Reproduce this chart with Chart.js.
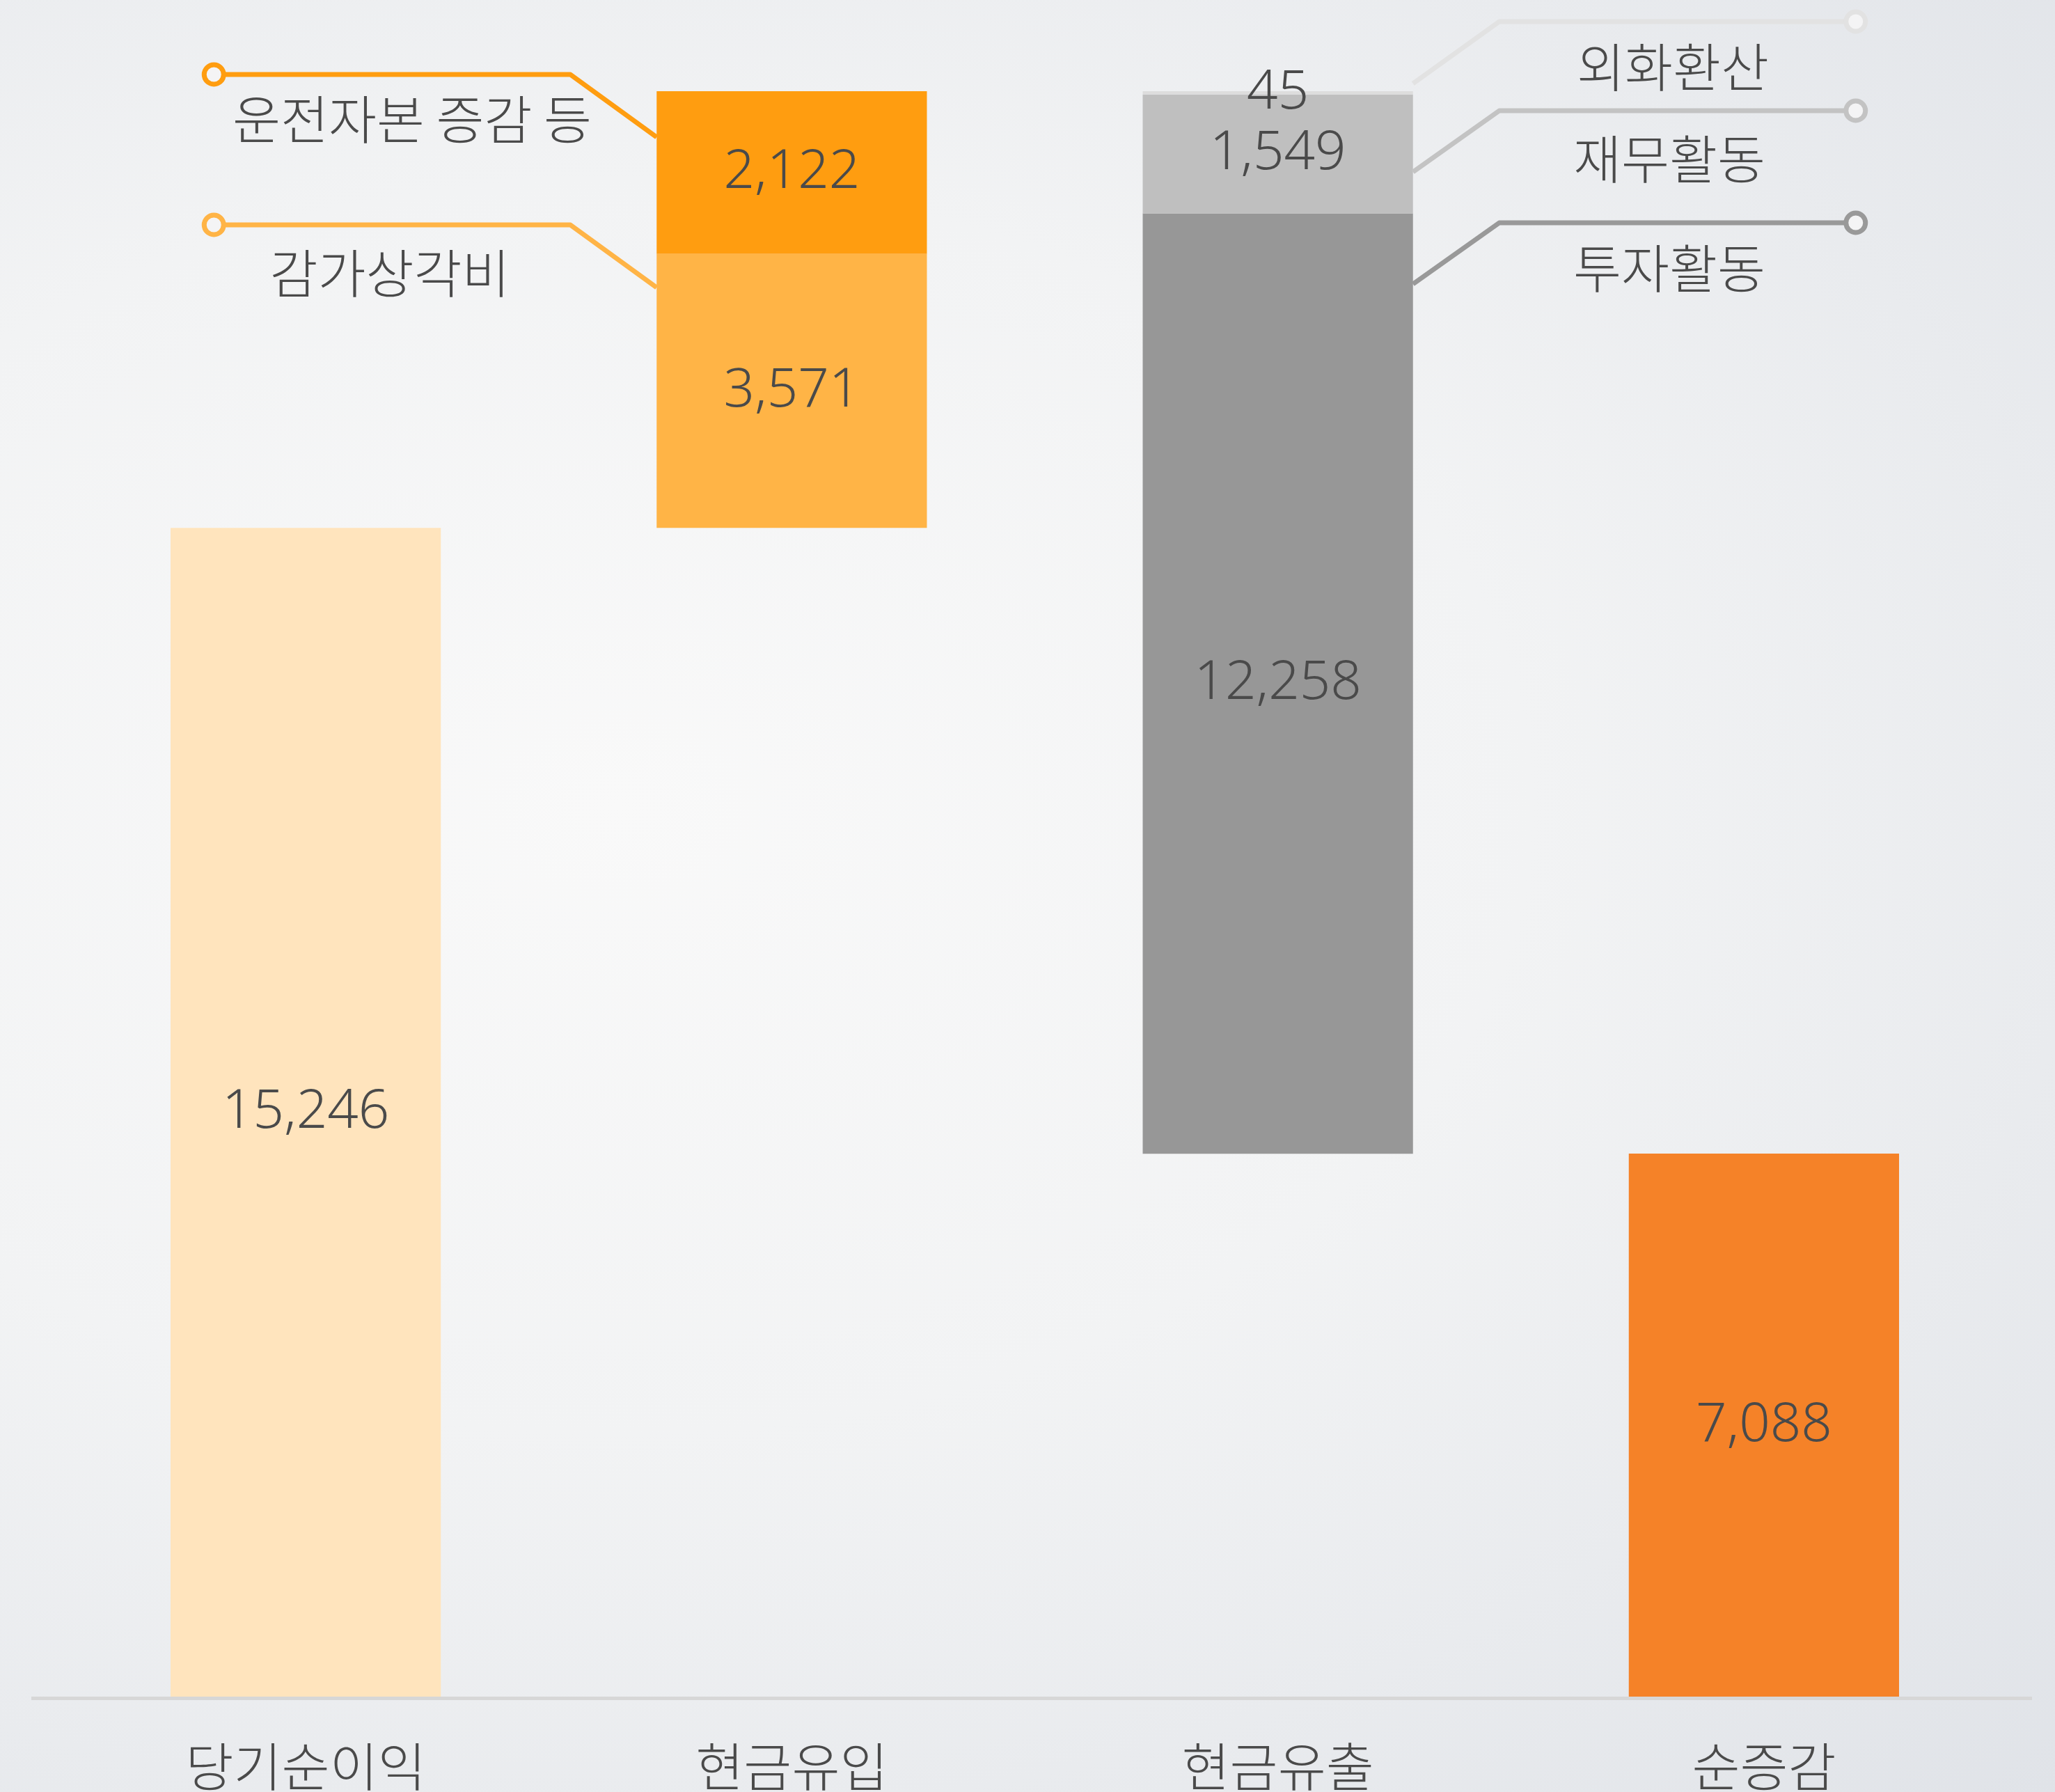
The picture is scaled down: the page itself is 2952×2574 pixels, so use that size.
<!DOCTYPE html>
<html lang="ko">
<head>
<meta charset="utf-8">
<title>현금흐름</title>
<script src="https://cdn.jsdelivr.net/npm/chart.js@4/dist/chart.umd.min.js"></script>
<style>
    html, body {
        margin: 0;
        padding: 0;
        width: 2952px;
        height: 2574px;
        overflow: hidden;
        background: radial-gradient(ellipse at 30% 45%, #f9f9f9 0%, #f2f3f4 45%, #e0e3e8 100%);
    }
    canvas { display: block; }
</style>
</head>
<body>
<canvas id="chartCash" width="2952" height="2574"></canvas>
<script>
const categories = ["당기순이익", "현금유입", "현금유출", "순증감"];
const netIncome = 15246;
// bottom to top
const inflowNames = ["감가상각비", "운전자본 증감 등"];
const inflowValues = [3571, 2122];
// top to bottom
const outflowNames = ["외화환산", "재무활동", "투자활동"];
const outflowValues = [45, 1549, 12258];
const netChange = 7088;

const netIncomeColor = "#ffe4bd";
const inflowColors = ["#ffb446", "#ff9d10"];
const outflowColors = ["#dddddd", "#bfbfbf", "#979797"];
const netChangeColor = "#f58228";

const FONT = "'Noto Sans CJK KR', 'Noto Sans', sans-serif";
const NUM_FONT = "'Noto Sans', 'Noto Sans CJK KR', sans-serif";
const TEXT = "#4a4a4a";

/**
 * @param {number} idx
 * @param {[number, number]} range
 */
function slot(idx, range) {
    return categories.map((_, i) => i === idx ? range : null);
}

function buildDatasets() {
    const sets = [];
    sets.push({ label: categories[0], amount: netIncome, data: slot(0, [0, netIncome]), backgroundColor: netIncomeColor });

    let running = netIncome;
    inflowValues.forEach((v, i) => {
        sets.push({ label: inflowNames[i], amount: v, data: slot(1, [running, running + v]), backgroundColor: inflowColors[i] });
        running += v;
    });
    outflowValues.forEach((v, i) => {
        sets.push({ label: outflowNames[i], amount: v, data: slot(2, [running - v, running]), backgroundColor: outflowColors[i] });
        running -= v;
    });

    sets.push({ label: categories[3], amount: netChange, data: slot(3, [0, netChange]), backgroundColor: netChangeColor });
    return sets;
}

// leader lines: side, dataset label, dot y, attach y, text centre
const leaders = [
    { side: "left", name: "운전자본 증감 등", color: inflowColors[1], dotY: 107, attachY: 197, textX: 592, textY: 171 },
    { side: "left", name: "감가상각비", color: inflowColors[0], dotY: 323, attachY: 413, textX: 560, textY: 392 },
    { side: "right", name: "외화환산", color: "#e2e2e2", dotY: 31, attachY: 120, textX: 2403, textY: 96 },
    { side: "right", name: "재무활동", color: "#c3c3c3", dotY: 159, attachY: 247, textX: 2398, textY: 228 },
    { side: "right", name: "투자활동", color: "#999999", dotY: 320, attachY: 408, textX: 2398, textY: 385 }
];

const annotations = {
    id: "annotations",
    afterDatasetsDraw(chart) {
        const ctx = chart.ctx;
        ctx.save();

        // base line
        ctx.strokeStyle = "#d7d7d7";
        ctx.lineWidth = 5;
        ctx.beginPath();
        ctx.moveTo(45, 2439.5);
        ctx.lineTo(2919, 2439.5);
        ctx.stroke();

        ctx.textAlign = "center";
        ctx.textBaseline = "middle";

        // category names under the axis
        ctx.fillStyle = TEXT;
        ctx.font = `300 75px ${FONT}`;
        const xs = chart.scales.x;
        categories.forEach((c, i) => ctx.fillText(c, xs.getPixelForValue(i), 2537));

        // values in the middle of each segment
        ctx.font = `300 78px ${NUM_FONT}`;
        chart.data.datasets.forEach((ds, di) => {
            const meta = chart.getDatasetMeta(di);
            meta.data.forEach((bar, i) => {
                if (ds.data[i] == null) return;
                const p = bar.getProps(["x", "y", "base"], true);
                ctx.fillText(ds.amount.toLocaleString("en-US"), p.x, (p.y + p.base) / 2);
            });
        });

        // leader lines
        for (const l of leaders) {
            const di = chart.data.datasets.findIndex(ds => ds.label === l.name);
            const bar = chart.getDatasetMeta(di).data.find((_, i) => chart.data.datasets[di].data[i] != null);
            const p = bar.getProps(["x", "width"], true);
            const dir = l.side === "left" ? -1 : 1;
            const edge = p.x + dir * p.width / 2;
            const elbow = edge + dir * 124;
            const dot = edge + dir * 636;

            ctx.strokeStyle = l.color;
            ctx.lineWidth = 7;
            ctx.lineJoin = "round";
            ctx.beginPath();
            ctx.moveTo(edge, l.attachY);
            ctx.lineTo(elbow, l.dotY);
            ctx.lineTo(dot, l.dotY);
            ctx.stroke();

            ctx.fillStyle = "#f4f4f5";
            ctx.beginPath();
            ctx.arc(dot, l.dotY, 14, 0, Math.PI * 2);
            ctx.fill();
            ctx.stroke();

            ctx.fillStyle = TEXT;
            ctx.font = `300 75px ${FONT}`;
            ctx.fillText(l.name, l.textX, l.textY);
        }
        ctx.restore();
    }
};

new Chart(document.getElementById("chartCash"), {
    type: "bar",
    data: {
        labels: categories,
        datasets: buildDatasets()
    },
    options: {
        responsive: false,
        animation: false,
        devicePixelRatio: 1,
        barPercentage: 1,
        categoryPercentage: 0.556,
        layout: {
            padding: { top: 14, left: 90, right: 69, bottom: 136 }
        },
        plugins: {
            legend: { display: false },
            tooltip: { enabled: false }
        },
        scales: {
            x: {
                stacked: true,
                display: false
            },
            y: {
                stacked: false,
                display: false,
                min: 0,
                max: 22000
            }
        }
    },
    plugins: [annotations]
});
</script>
</body>
</html>
